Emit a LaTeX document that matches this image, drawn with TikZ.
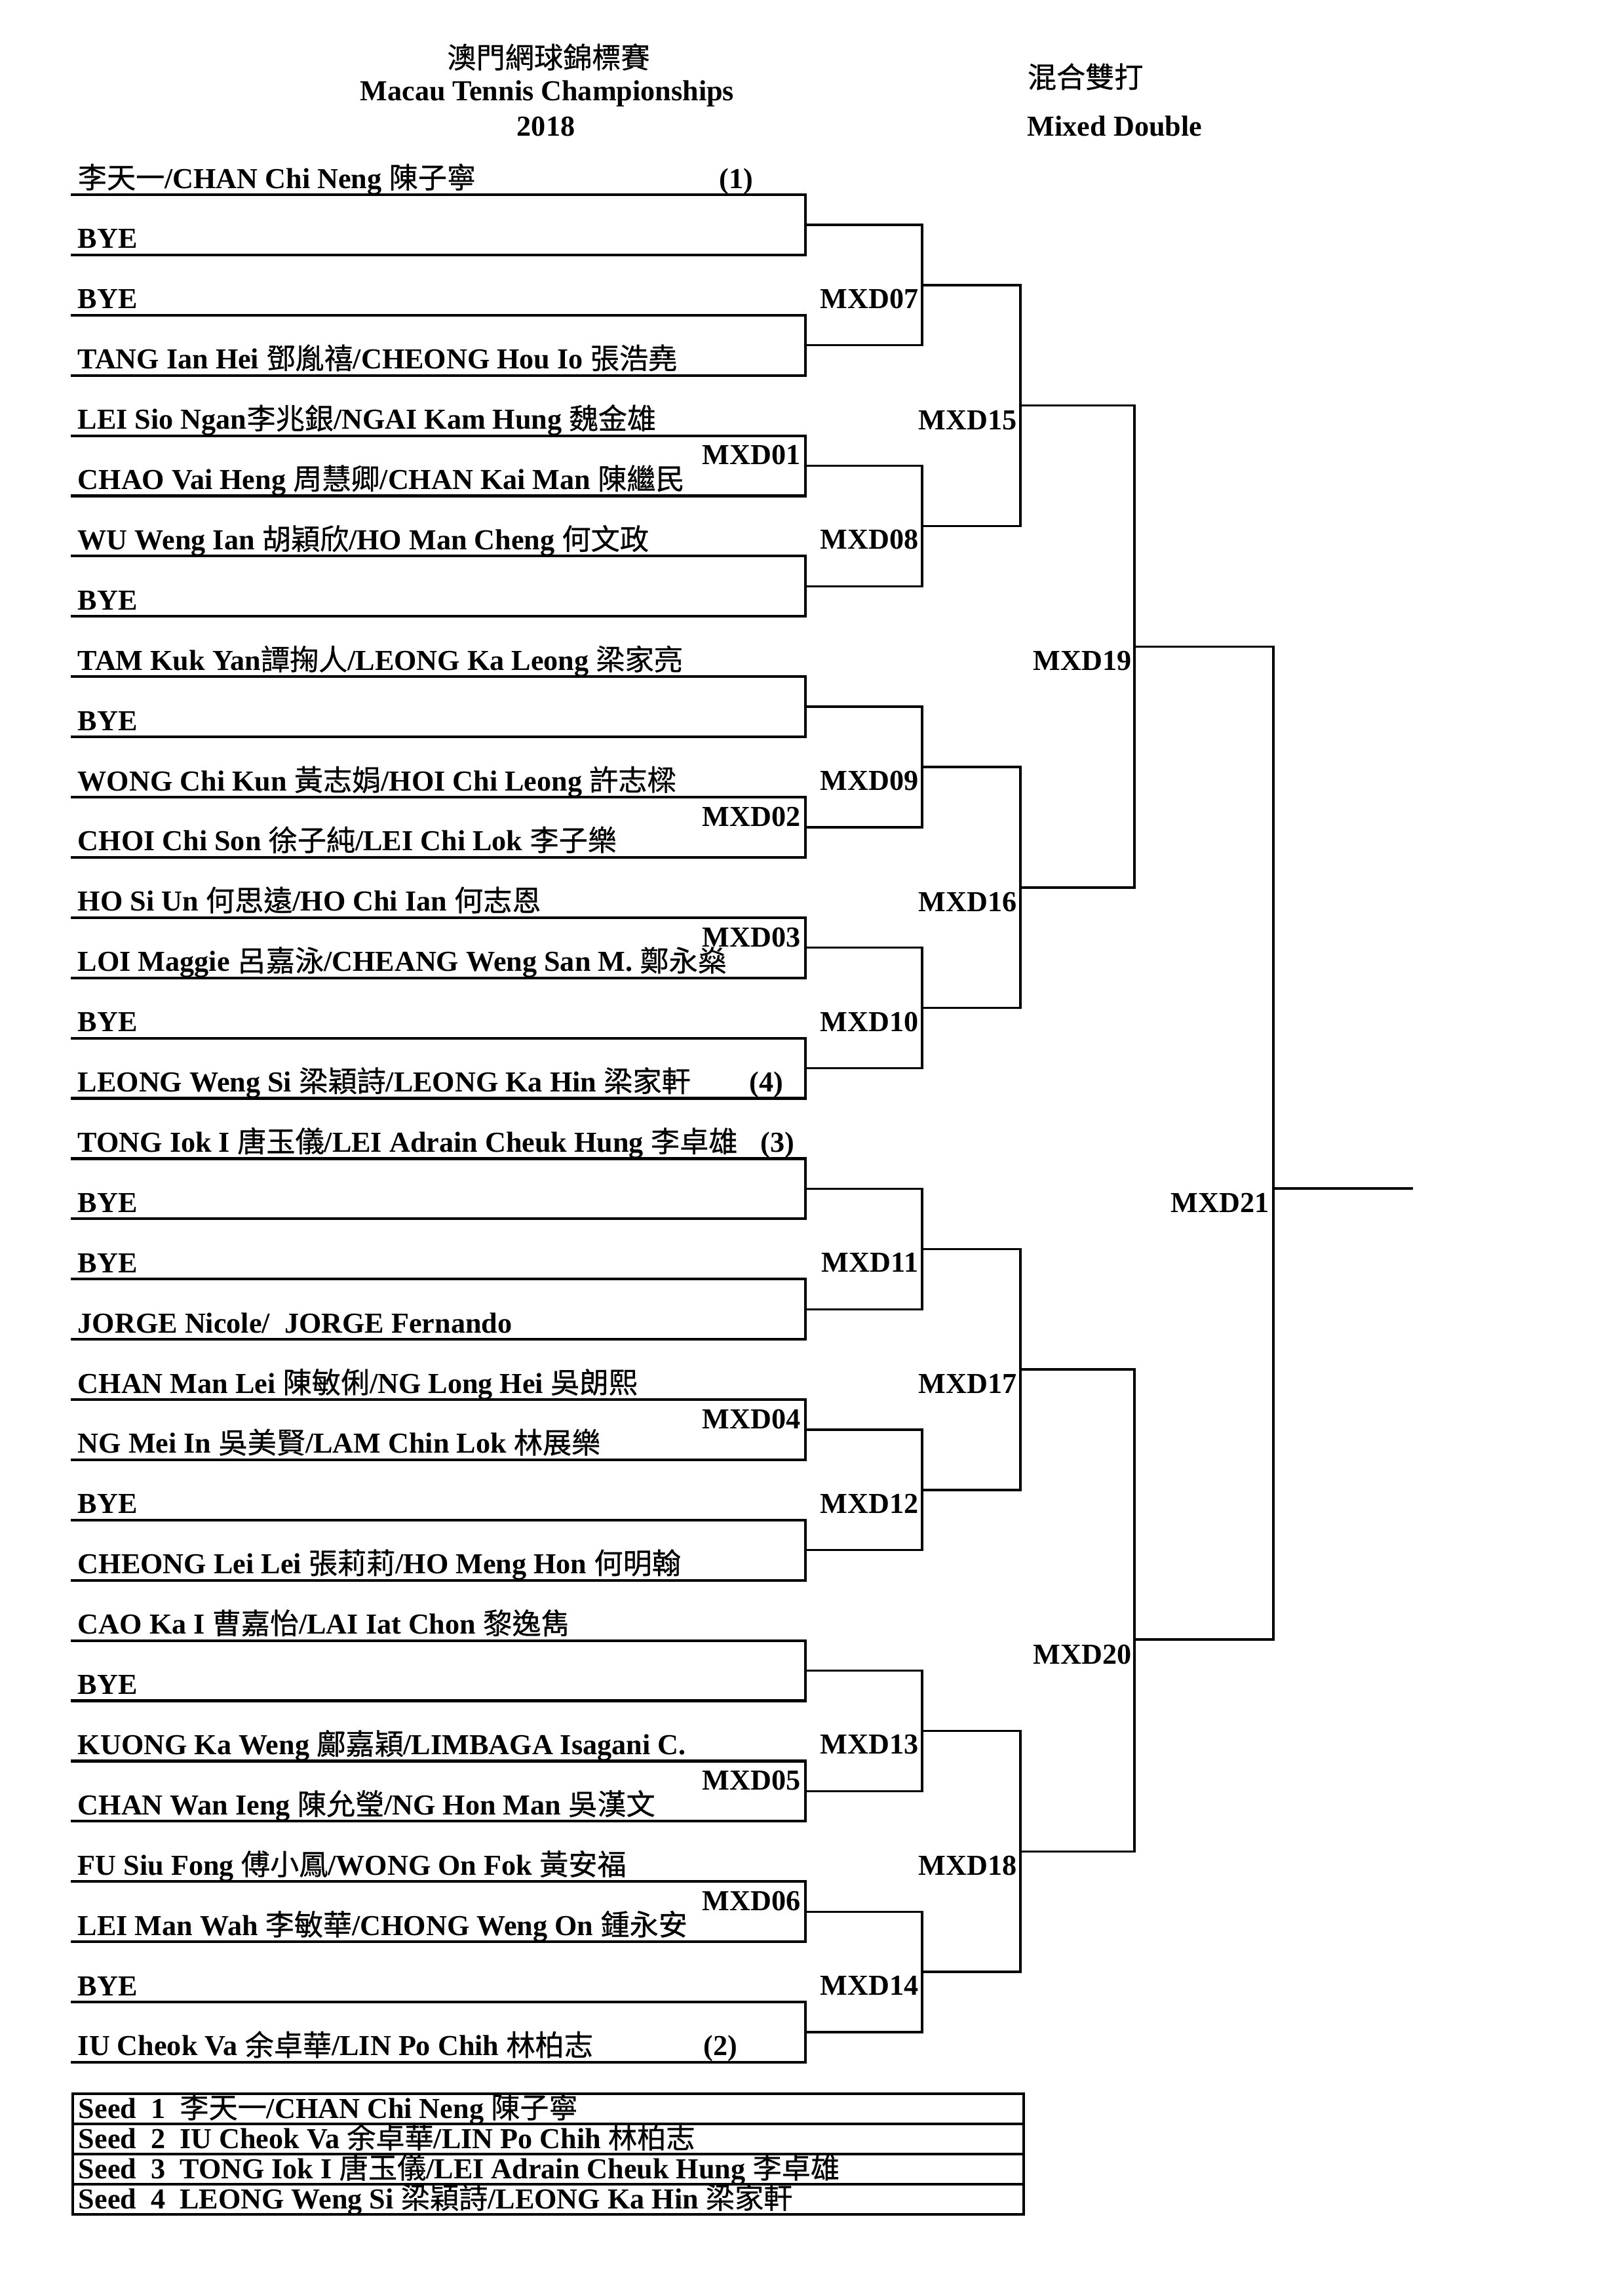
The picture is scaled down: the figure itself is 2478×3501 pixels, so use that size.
\documentclass[tikz,border=0pt]{standalone}
\usepackage{fontspec}
\setmainfont{Liberation Serif}
\newfontfamily\cjkfont{Noto Sans CJK TC}[FakeBold=0.6]
\newcommand\zh[1]{{\cjkfont\mdseries #1}}
\begin{document}
\begin{tikzpicture}[x=0.24pt,y=-0.24pt,
  font=\bfseries\fontsize{10.6}{12}\selectfont,
  pl/.style={line width=1pt},
  br/.style={line width=0.8pt},
  nm/.style={anchor=base west, inner sep=0pt},
  lab/.style={anchor=east, inner sep=0pt},
  sd/.style={anchor=base west, inner sep=0pt}]
\useasboundingbox (0,0) rectangle (2478,3501);
\fill[white] (0,0) rectangle (2478,3501);

% titles
\node[inner sep=0pt] (t1) at (837,87) {\zh{澳門網球錦標賽}};
\node[anchor=base, inner sep=0pt] (t2) at (835,153) {Macau Tennis Championships};
\node[anchor=base, inner sep=0pt] (t3) at (833,207) {2018};
\node[anchor=west, inner sep=0pt] (t4) at (1567,117) {\zh{混合雙打}};
\node[anchor=base west, inner sep=0pt] (t5) at (1567,207) {Mixed Double};

% first-round boxes
\foreach \k in {1,...,16}{
  \pgfmathsetmacro\ya{297+91.9*(2*\k-2)}
  \pgfmathsetmacro\yb{\ya+91.9}
  \draw[pl] (108,\ya) -- (1229,\ya) -- (1229,\yb) -- (108,\yb);
}
% round 2
\foreach \m in {1,...,8}{
  \pgfmathsetmacro\ya{342.95+367.6*(\m-1)}
  \pgfmathsetmacro\yb{\ya+183.8}
  \draw[br] (1229,\ya) -- (1407,\ya) -- (1407,\yb) -- (1229,\yb);
}
% round 3
\foreach \n in {1,...,4}{
  \pgfmathsetmacro\ya{434.85+735.2*(\n-1)}
  \pgfmathsetmacro\yb{\ya+367.6}
  \draw[br] (1407,\ya) -- (1557,\ya) -- (1557,\yb) -- (1407,\yb);
}
% round 4
\foreach \q in {1,2}{
  \pgfmathsetmacro\ya{618.65+1470.4*(\q-1)}
  \pgfmathsetmacro\yb{\ya+735.2}
  \draw[br] (1557,\ya) -- (1731,\ya) -- (1731,\yb) -- (1557,\yb);
}
% final
\coordinate (f1) at (1731,986.25);
\coordinate (f2) at (1943,986.25);
\coordinate (f3) at (1943,2501);
\coordinate (f4) at (1731,2501);
\coordinate (w1) at (1943,1813);
\coordinate (w2) at (2156,1813);
\draw[br] (f1) -- (f2) -- (f3) -- (f4);
\draw[br] (w1) -- (w2);

% names (baseline = line - 10)
\node[nm] (n1)  at (118,287)    {\zh{李天一}/CHAN Chi Neng \zh{陳子寧}};
\node[nm] (n2)  at (118,378.9)  {BYE};
\node[nm] (n3)  at (118,470.8)  {BYE};
\node[nm] (n4)  at (118,562.7)  {TANG Ian Hei \zh{鄧胤禧}/CHEONG Hou Io \zh{張浩堯}};
\node[nm] (n5)  at (118,654.6)  {LEI Sio Ngan\zh{李兆銀}/NGAI Kam Hung \zh{魏金雄}};
\node[nm] (n6)  at (118,746.5)  {CHAO Vai Heng \zh{周慧卿}/CHAN Kai Man \zh{陳繼民}};
\node[nm] (n7)  at (118,838.4)  {WU Weng Ian \zh{胡穎欣}/HO Man Cheng \zh{何文政}};
\node[nm] (n8)  at (118,930.3)  {BYE};
\node[nm] (n9)  at (118,1022.2) {TAM Kuk Yan\zh{譚掬人}/LEONG Ka Leong \zh{梁家亮}};
\node[nm] (n10) at (118,1114.1) {BYE};
\node[nm] (n11) at (118,1206.0) {WONG Chi Kun \zh{黃志娟}/HOI Chi Leong \zh{許志樑}};
\node[nm] (n12) at (118,1297.9) {CHOI Chi Son \zh{徐子純}/LEI Chi Lok \zh{李子樂}};
\node[nm] (n13) at (118,1389.8) {HO Si Un \zh{何思遠}/HO Chi Ian \zh{何志恩}};
\node[nm] (n14) at (118,1481.7) {LOI Maggie \zh{呂嘉泳}/CHEANG Weng San M. \zh{鄭永燊}};
\node[nm] (n15) at (118,1573.6) {BYE};
\node[nm] (n16) at (118,1665.5) {LEONG Weng Si \zh{梁穎詩}/LEONG Ka Hin \zh{梁家軒}};
\node[nm] (n17) at (118,1757.4) {TONG Iok I \zh{唐玉儀}/LEI Adrain Cheuk Hung \zh{李卓雄}};
\node[nm] (n18) at (118,1849.3) {BYE};
\node[nm] (n19) at (118,1941.2) {BYE};
\node[nm] (n20) at (118,2033.1) {JORGE Nicole/\ \ JORGE Fernando};
\node[nm] (n21) at (118,2125.0) {CHAN Man Lei \zh{陳敏俐}/NG Long Hei \zh{吳朗熙}};
\node[nm] (n22) at (118,2216.9) {NG Mei In \zh{吳美賢}/LAM Chin Lok \zh{林展樂}};
\node[nm] (n23) at (118,2308.8) {BYE};
\node[nm] (n24) at (118,2400.7) {CHEONG Lei Lei \zh{張莉莉}/HO Meng Hon \zh{何明翰}};
\node[nm] (n25) at (118,2492.6) {CAO Ka I \zh{曹嘉怡}/LAI Iat Chon \zh{黎逸雋}};
\node[nm] (n26) at (118,2584.5) {BYE};
\node[nm] (n27) at (118,2676.4) {KUONG Ka Weng \zh{鄺嘉穎}/LIMBAGA Isagani C.};
\node[nm] (n28) at (118,2768.3) {CHAN Wan Ieng \zh{陳允瑩}/NG Hon Man \zh{吳漢文}};
\node[nm] (n29) at (118,2860.2) {FU Siu Fong \zh{傅小鳳}/WONG On Fok \zh{黃安福}};
\node[nm] (n30) at (118,2952.1) {LEI Man Wah \zh{李敏華}/CHONG Weng On \zh{鍾永安}};
\node[nm] (n31) at (118,3044.0) {BYE};
\node[nm] (n32) at (118,3135.9) {IU Cheok Va \zh{余卓華}/LIN Po Chih \zh{林柏志}};

% seeds
\node[sd] (s1) at (1097,287)    {(1)};
\node[sd] (s4) at (1143,1665.5) {(4)};
\node[sd] (s3) at (1160,1757.4) {(3)};
\node[sd] (s2) at (1073,3135.9) {(2)};

% match labels round 1
\node[lab] (m01) at (1222,694.5) {MXD01};
\node[lab] (m02) at (1222,1246)  {MXD02};
\node[lab] (m03) at (1222,1430)  {MXD03};
\node[lab] (m04) at (1222,2165)  {MXD04};
\node[lab] (m05) at (1222,2716)  {MXD05};
\node[lab] (m06) at (1222,2900)  {MXD06};
% round 2
\foreach \m/\t in {1/07,2/08,3/09,4/10,5/11,6/12,7/13,8/14}{
  \pgfmathsetmacro\yl{455.85+367.6*(\m-1)}
  \node[lab] (m\t) at (1402,\yl) {MXD\t};
}
% round 3
\foreach \n/\t in {1/15,2/16,3/17,4/18}{
  \pgfmathsetmacro\yl{640.65+735.2*(\n-1)}
  \node[lab] (m\t) at (1552,\yl) {MXD\t};
}
\node[lab] (m19) at (1727,1008) {MXD19};
\node[lab] (m20) at (1727,2524) {MXD20};
\node[lab] (m21) at (1937,1835) {MXD21};

% seed table
\draw[line width=0.8pt] (111,3194) rectangle (1562,3378);
\draw[line width=0.8pt] (111,3240) -- (1562,3240);
\draw[line width=0.8pt] (111,3286) -- (1562,3286);
\draw[line width=0.8pt] (111,3332) -- (1562,3332);
\node[sd] (st1) at (119,3231) {Seed\ \ 1\ \ \zh{李天一}/CHAN Chi Neng \zh{陳子寧}};
\node[sd] (st2) at (119,3277) {Seed\ \ 2\ \ IU Cheok Va \zh{余卓華}/LIN Po Chih \zh{林柏志}};
\node[sd] (st3) at (119,3323) {Seed\ \ 3\ \ TONG Iok I \zh{唐玉儀}/LEI Adrain Cheuk Hung \zh{李卓雄}};
\node[sd] (st4) at (119,3369) {Seed\ \ 4\ \ LEONG Weng Si \zh{梁穎詩}/LEONG Ka Hin \zh{梁家軒}};
\end{tikzpicture}
\end{document}
